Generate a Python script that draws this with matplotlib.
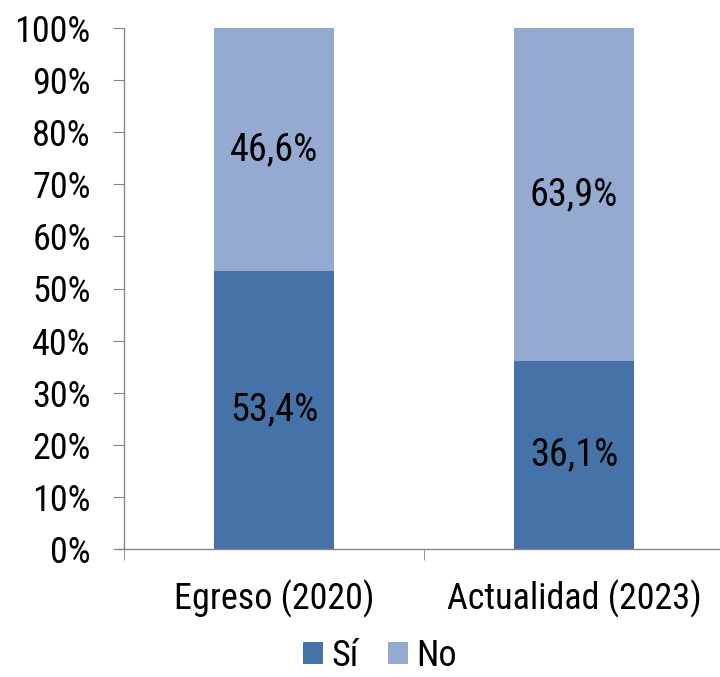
import matplotlib.pyplot as plt
from matplotlib import font_manager
import numpy as np

categories = ['Egreso (2020)', 'Actualidad (2023)']
si = [53.4, 36.1]
no = [46.6, 63.9]
yticks = list(range(0, 101, 10))

# condensed face like the original, if one is around
names = {f.name for f in font_manager.fontManager.ttflist}
fam = 'Liberation Sans'
for cand in ['Liberation Sans Narrow', 'Arial Narrow', 'Roboto Condensed', 'Archivo Narrow']:
    if cand in names:
        fam = cand
        break
plt.rcParams['font.family'] = [fam, 'DejaVu Sans']

c_si = '#4573A7'
c_no = '#95AAD1'
gray = '#868686'

fig = plt.figure(figsize=(7.2, 6.77), dpi=100)
ax = fig.add_axes([124/720, 128/677, 600/720, 521/677])

x = np.arange(len(categories))
ax.bar(x, si, width=0.4, color=c_si, label='Sí')
ax.bar(x, no, width=0.4, bottom=si, color=c_no, label='No')

for i in range(len(categories)):
    ax.text(x[i], si[i] / 2, f'{si[i]:.1f}%'.replace('.', ','), ha='center', va='center', fontsize=27.5)
    ax.text(x[i], si[i] + no[i] / 2, f'{no[i]:.1f}%'.replace('.', ','), ha='center', va='center', fontsize=27.5)

ax.set_xlim(-0.5, 1.5)
ax.set_ylim(0, 100)
ax.set_yticks(yticks)
ax.set_yticklabels([f'{v}%' for v in yticks], fontsize=26)
ax.set_xticks(x)
ax.set_xticklabels(categories, fontsize=26)
ax.tick_params(axis='x', length=0, pad=22)
ax.set_xticks([-0.5, 0.5, 1.5], minor=True)
ax.tick_params(axis='x', which='minor', length=8, color=gray, direction='out')
ax.tick_params(axis='y', length=8, color=gray, direction='out', pad=16)

for s in ['top', 'right']:
    ax.spines[s].set_visible(False)
for s in ['left', 'bottom']:
    ax.spines[s].set_color(gray)
    ax.spines[s].set_linewidth(1)
ax.spines['bottom'].set_bounds(-0.52, 1.5)

fig.legend(loc='center', bbox_to_anchor=(380/720, 21/677), ncol=2, frameon=False,
           fontsize=26, handlelength=0.55, handleheight=0.55, handletextpad=0.25,
           columnspacing=0.8, borderpad=0.2)

fig.savefig('out.png', dpi=100)
